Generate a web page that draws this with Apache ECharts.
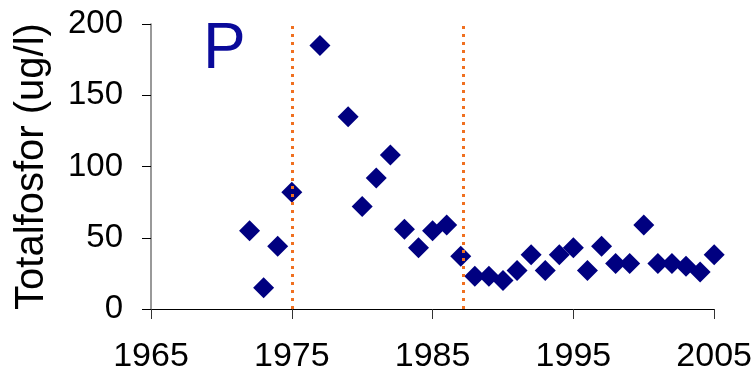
<!DOCTYPE html>
<html>
<head>
<meta charset="utf-8">
<script src="https://cdn.jsdelivr.net/npm/echarts@6/dist/echarts.min.js"></script>
<style>
  html, body { margin: 0; padding: 0; background: #fff; }
  #chart { width: 755px; height: 374px; }
</style>
</head>
<body>
<div id="chart"></div>
<script>
// total phosphorus per year
var years = [1972, 1973, 1974, 1975, 1977, 1979, 1980, 1981, 1982, 1983, 1984, 1985, 1986, 1987,
             1988, 1989, 1990, 1991, 1992, 1993, 1994, 1995, 1996, 1997, 1998, 1999, 2000,
             2001, 2002, 2003, 2004, 2005];
var phosphorus = [55, 15, 44, 82, 185, 135, 72, 92, 108, 56, 43, 55, 59, 37,
                  23, 23, 20, 27, 38, 27, 38, 43, 27, 44, 32, 32, 59,
                  32, 32, 30, 26, 38];
var markerYears = [1975, 1987.2];

var fontFam = '"Liberation Sans", Arial, sans-serif';
var myChart = echarts.init(document.getElementById('chart'));

var option = {
  animation: false,
  grid: { left: 151, right: 39, top: 24, bottom: 65 },
  graphic: [{
    type: 'text', left: 203, top: 18,
    style: { text: 'P', font: '64px ' + fontFam, fill: '#0a0a9a' }
  }],
  xAxis: {
    type: 'value', min: 1965, max: 2005, interval: 10,
    axisLine: { lineStyle: { color: '#000', width: 1 } },
    axisTick: { show: true, length: 10, lineStyle: { color: '#333' } },
    axisLabel: {
      color: '#000', fontSize: 34, fontFamily: fontFam, margin: 31,
      formatter: function (v) { return String(v); }
    },
    splitLine: { show: false }
  },
  yAxis: {
    type: 'value', min: 0, max: 200, interval: 50,
    name: 'Totalfosfor (ug/l)', nameLocation: 'middle', nameGap: 99,
    nameTextStyle: { color: '#000', fontSize: 40, fontFamily: fontFam },
    axisLine: { show: true, lineStyle: { color: '#777', width: 1.5 } },
    axisTick: { show: true, length: 9, lineStyle: { color: '#000' } },
    axisLabel: { color: '#000', fontSize: 33, fontFamily: fontFam, margin: 28 },
    splitLine: { show: false }
  },
  series: [{
    type: 'scatter',
    symbol: 'diamond',
    symbolSize: 21,
    itemStyle: { color: '#000080', opacity: 1 },
    data: years.map(function (y, i) { return [y, phosphorus[i]]; }),
    markLine: {
      silent: true,
      symbol: 'none',
      label: { show: false },
      lineStyle: { color: '#f07020', width: 3, type: [3, 5] },
      data: markerYears.map(function (y) { return { xAxis: y }; })
    }
  }]
};
myChart.setOption(option);
</script>
</body>
</html>
